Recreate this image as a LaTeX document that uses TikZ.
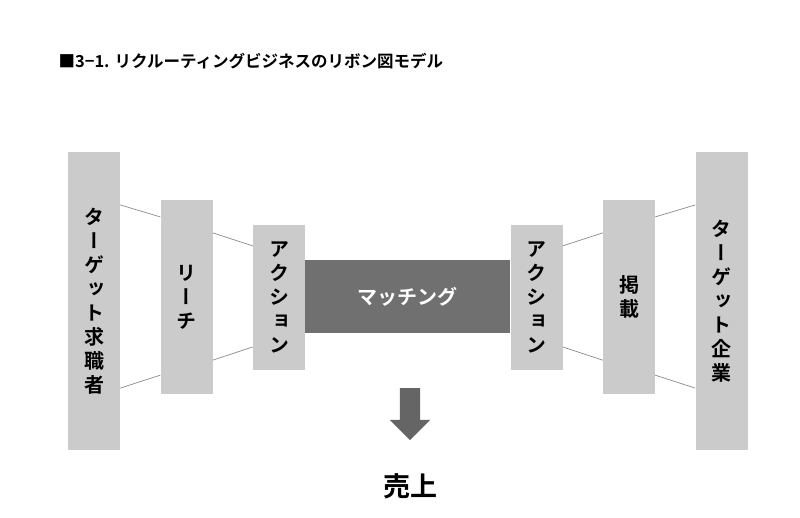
\documentclass[tikz,border=0pt]{standalone}
\usepackage{fontspec}
\setmainfont{Noto Sans CJK JP}[BoldFont={* Bold}]
\newfontfamily\vjp[Vertical=Alternates,BoldFont={* Bold}]{Noto Sans CJK JP}
\usetikzlibrary{calc, shapes.arrows}
\definecolor{barg}{HTML}{CBCBCB}
\definecolor{darkg}{HTML}{707070}
\definecolor{lineg}{HTML}{8A8A8A}
\tikzset{bar/.style={rectangle, fill=barg, minimum width=52pt, inner sep=0pt,
    align=center, font=\vjp\bfseries\fontsize{20}{24}\selectfont},
  link/.style={draw=lineg, line width=0.7pt}}

\begin{document}
\begin{tikzpicture}[x=1pt, y=-1pt]
    \useasboundingbox (0,0) rectangle (800,517);

    \node [anchor=west, font=\bfseries\fontsize{16.5}{18}\selectfont] (title) at (55,61) {■3−1. リクルーティングビジネスのリボン図モデル};

    % left side
    \node [bar, minimum height=298pt] (seek) at (94,301) {タ\\ー\\ゲ\\ッ\\ト\\求\\職\\者};
    \node [bar, minimum height=194pt] (reach) at (186.5,297) {リ\\ー\\チ};
    \node [bar, minimum height=145pt] (actl) at (279,297.5) {ア\\ク\\シ\\ョ\\ン};

    % centre
    \node [rectangle, fill=darkg, minimum width=205pt, minimum height=73pt, inner sep=0pt,
        text=white, font=\bfseries\fontsize{20}{24}\selectfont] (match) at (407.5,296.5) {マッチング};

    % right side
    \node [bar, minimum height=145pt] (actr) at (536.5,297.5) {ア\\ク\\シ\\ョ\\ン};
    \node [bar, minimum height=194pt] (post) at (629,297) {掲\\載};
    \node [bar, minimum height=298pt] (firm) at (721.5,301) {タ\\ー\\ゲ\\ッ\\ト\\企\\業};

    \path [link] ($(seek.north east)!0.178!(seek.south east)$) -- ($(reach.north west)!0.088!(reach.south west)$);
    \path [link] ($(seek.north east)!0.792!(seek.south east)$) -- ($(reach.north west)!0.902!(reach.south west)$);
    \path [link] ($(reach.north east)!0.17!(reach.south east)$) -- ($(actl.north west)!0.145!(actl.south west)$);
    \path [link] ($(reach.north east)!0.825!(reach.south east)$) -- ($(actl.north west)!0.84!(actl.south west)$);
    \path [link] ($(firm.north west)!0.178!(firm.south west)$) -- ($(post.north east)!0.088!(post.south east)$);
    \path [link] ($(firm.north west)!0.792!(firm.south west)$) -- ($(post.north east)!0.902!(post.south east)$);
    \path [link] ($(post.north west)!0.17!(post.south west)$) -- ($(actr.north east)!0.145!(actr.south east)$);
    \path [link] ($(post.north west)!0.825!(post.south west)$) -- ($(actr.north east)!0.84!(actr.south east)$);

    % sales
    \node [single arrow, fill=darkg!90!black, rotate=-90, minimum height=52pt, inner sep=10pt,
        single arrow head extend=10pt, single arrow head indent=0pt] (down) at (410,409) {};
    \node [font=\bfseries\fontsize{27}{30}\selectfont] (sales) at (410,486) {売上};

\end{tikzpicture}
\end{document}
